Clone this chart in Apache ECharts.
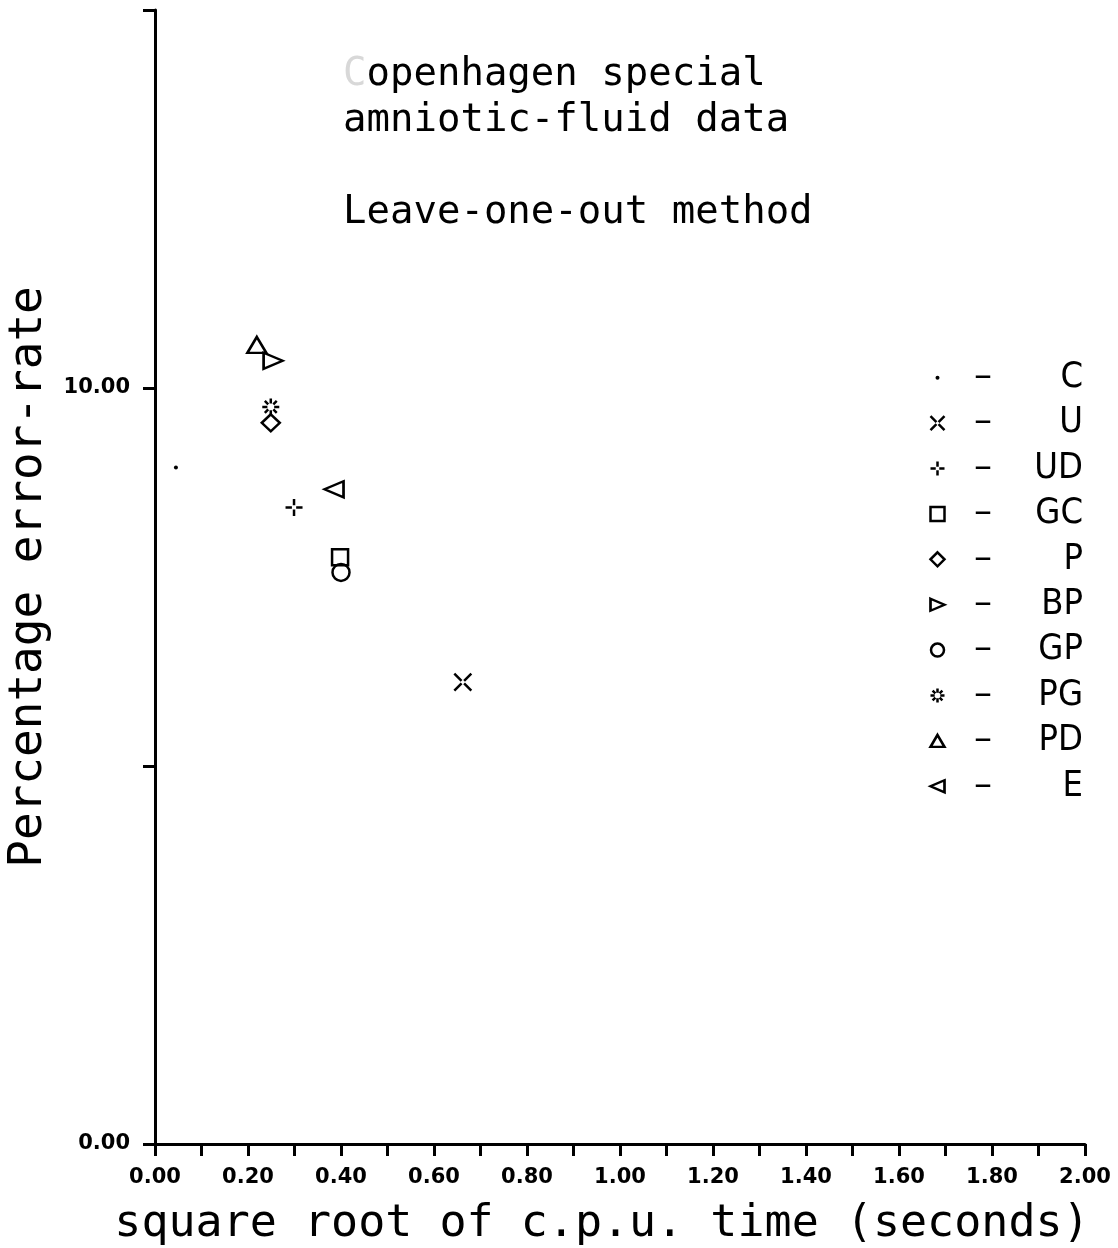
<!DOCTYPE html>
<html>
<head>
<meta charset="utf-8">
<script src="https://cdn.jsdelivr.net/npm/echarts@6/dist/echarts.min.js"></script>
<style>
html, body { margin: 0; padding: 0; background: #fff; }
#chart { width: 1118px; height: 1248px; }
</style>
</head>
<body>
<div id="chart"></div>
<script>
// methods and their results
var methods = ['C', 'U', 'UD', 'GC', 'P', 'BP', 'GP', 'PG', 'PD', 'E'];
var cpuTime = [0.045, 0.662, 0.299, 0.398, 0.249, 0.254, 0.400, 0.249, 0.219, 0.385];
var errorRate = [8.95, 6.11, 8.42, 7.76, 9.54, 10.36, 7.56, 9.75, 10.57, 8.66];
var xLabelled = [0, 0.2, 0.4, 0.6, 0.8, 1.0, 1.2, 1.4, 1.6, 1.8, 2.0];
var yLabelled = [0, 10];

// plotter-like marker shapes
var marks = {
	C: 'circle',
	U: 'path://M0,0L8.5,8.5M11.5,11.5L20,20M20,0L11.5,8.5M8.5,11.5L0,20',
	UD: 'path://M10,0L10,7.5M10,12.5L10,20M0,10L7.5,10M12.5,10L20,10',
	GC: 'rect',
	P: 'diamond',
	BP: 'path://M0,0L20,9L0,18Z',
	GP: 'circle',
	PG: 'path://M0,10L6,10M14,10L20,10M10,0L10,6M10,14L10,20M3,3L7,7M13,13L17,17M17,3L13,7M7,13L3,17',
	PD: 'path://M10,0L20,17L0,17Z',
	E: 'path://M20,0L0,9L20,18Z'
};
var plotSize = { C: 4, U: 17, UD: 17, GC: 16, P: [18, 17], BP: [19, 16], GP: 17, PG: 17, PD: [19, 16], E: [19, 16] };
var keySize = { C: 4, U: 14, UD: 14, GC: 14, P: [14, 14], BP: [14, 12], GP: 13, PG: 14, PD: [14, 12], E: [14, 12] };

var mono = "'DejaVu Sans Mono', 'Liberation Mono', monospace";
var narrow = "'DejaVu Sans Condensed', 'Liberation Sans Narrow', 'DejaVu Sans', sans-serif";

var markStyle = function(name){
	if (name == 'C') return { color: '#000', opacity: 1 };
	return { color: 'transparent', borderColor: '#000', borderWidth: 2.5, opacity: 1 };
};

var series = [];
for (var i = 0; i < methods.length; i++) {
	series.push({
		name: methods[i],
		type: 'scatter',
		xAxisIndex: 0,
		yAxisIndex: 0,
		symbol: marks[methods[i]],
		symbolSize: plotSize[methods[i]],
		itemStyle: markStyle(methods[i]),
		emphasis: { disabled: true },
		data: [[cpuTime[i], errorRate[i]]]
	});
}
// key on the right: symbol - name
series.push({
	name: 'key',
	type: 'scatter',
	xAxisIndex: 1,
	yAxisIndex: 1,
	emphasis: { disabled: true },
	data: methods.map(function(m){
		return {
			value: [0, m],
			symbol: marks[m],
			symbolSize: keySize[m],
			itemStyle: markStyle(m)
		};
	})
});

var chart = echarts.init(document.getElementById('chart'));
chart.setOption({
	backgroundColor: '#fff',
	animation: false,
	title: {
		left: 343,
		top: 52,
		padding: 0,
		text: '{f|C}openhagen special\namniotic-fluid data\n\nLeave-one-out method',
		textStyle: {
			fontFamily: mono,
			fontSize: 39,
			fontWeight: 'normal',
			color: '#000',
			lineHeight: 46,
			rich: {
				f: { fontFamily: mono, fontSize: 39, lineHeight: 46, color: '#d8d8d8' }
			}
		}
	},
	grid: [
		{ left: 155, right: 33, top: 10, bottom: 104, containLabel: false, outerBoundsMode: 'none' },
		{ left: 925, width: 25, top: 355, height: 454, containLabel: false, outerBoundsMode: 'none' }
	],
	xAxis: [{
		gridIndex: 0,
		type: 'value',
		min: 0,
		max: 2,
		interval: 0.1,
		splitLine: { show: false },
		axisLine: { lineStyle: { color: '#000', width: 3 } },
		axisTick: { length: 12, lineStyle: { color: '#000', width: 3 } },
		axisLabel: {
			margin: 23,
			color: '#000',
			fontFamily: "'DejaVu Sans', sans-serif",
			fontWeight: 'bold',
			fontSize: 21,
			formatter: function(v){
				for (var k = 0; k < xLabelled.length; k++) {
					if (Math.abs(v - xLabelled[k]) < 1e-6) return v.toFixed(2);
				}
				return '';
			}
		},
		name: 'square root of c.p.u. time (seconds)',
		nameLocation: 'middle',
		nameGap: 58,
		nameTextStyle: { fontFamily: mono, fontSize: 45, color: '#000', padding: [0, 36, 0, 0] }
	}, {
		gridIndex: 1,
		type: 'value',
		min: -1,
		max: 1,
		show: false
	}],
	yAxis: [{
		gridIndex: 0,
		type: 'value',
		min: 0,
		max: 15,
		interval: 5,
		splitLine: { show: false },
		axisLine: { show: true, lineStyle: { color: '#000', width: 3 } },
		axisTick: { show: true, length: 12, lineStyle: { color: '#000', width: 3 } },
		axisLabel: {
			margin: 25,
			color: '#000',
			fontFamily: "'DejaVu Sans', sans-serif",
			fontWeight: 'bold',
			fontSize: 21,
			formatter: function(v){
				return yLabelled.indexOf(v) >= 0 ? v.toFixed(2) : '';
			}
		},
		name: 'Percentage error-rate',
		nameLocation: 'middle',
		nameGap: 103,
		nameTextStyle: { fontFamily: mono, fontSize: 46, color: '#000' }
	}, {
		gridIndex: 1,
		type: 'category',
		data: methods,
		inverse: true,
		position: 'right',
		axisLine: { show: false },
		axisTick: { show: false },
		splitLine: { show: false },
		axisLabel: {
			margin: 0,
			color: '#000',
			formatter: function(name){ return '{d|\u2013}{n|' + name + '}'; },
			rich: {
				d: { width: 66, align: 'center', fontFamily: 'DejaVu Sans', fontSize: 36, color: '#000' },
				n: { width: 67, align: 'right', fontFamily: narrow, fontSize: 36, color: '#000' }
			}
		}
	}],
	series: series
});
</script>
</body>
</html>
